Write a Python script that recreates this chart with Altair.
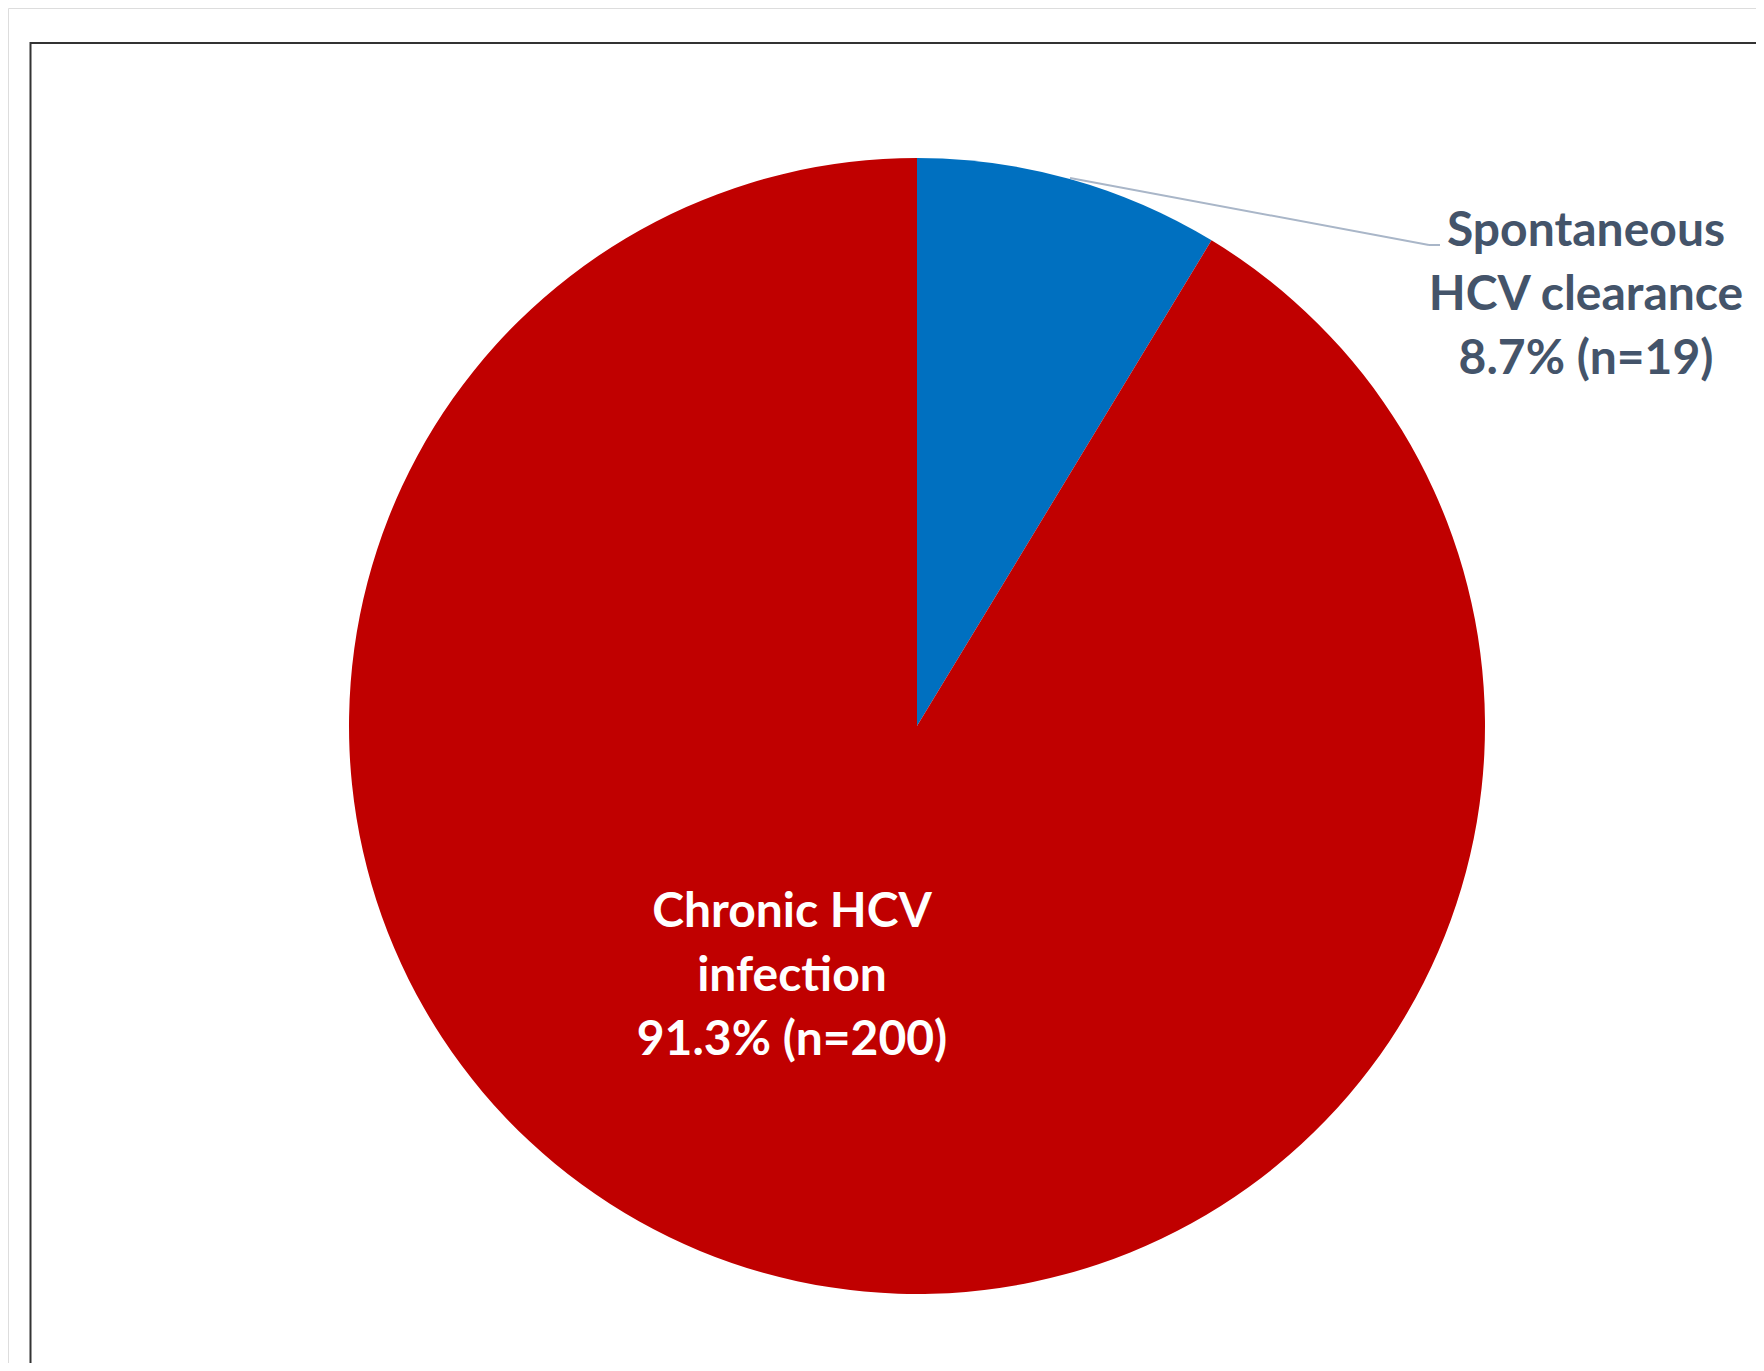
import altair as alt
import pandas as pd

# Data
categories = ["Spontaneous HCV clearance", "Chronic HCV infection"]
counts = [19, 200]
slice_order = [1, 2]
colors = ["#0070C0", "#C00000"]

label_spont = ["Spontaneous", "HCV clearance", "8.7% (n=19)"]
label_chronic = ["Chronic HCV", "infection", "91.3% (n=200)"]

W, H = 1748, 1355
CX, CY, R = 909, 718, 568
FONT = "Lato"
FS = 48
LH = 64

df = pd.DataFrame({"category": categories, "count": counts, "order": slice_order})

pie = alt.Chart(df).mark_arc(outerRadius=R, stroke=None).encode(
    theta=alt.Theta("count:Q", stack=True),
    order=alt.Order("order:Q"),
    color=alt.Color("category:N", scale=alt.Scale(domain=categories, range=colors), legend=None),
    x=alt.value(CX),
    y=alt.value(CY),
)

lab_df = pd.DataFrame({"lines": [label_spont, label_chronic],
                       "category": categories})

text_spont = alt.Chart(lab_df.iloc[[0]]).mark_text(
    font=FONT, fontSize=FS, fontWeight="bold", color="#44546A",
    align="center", baseline="middle", lineHeight=LH,
).encode(text="lines", x=alt.value(1578), y=alt.value(224))

text_chronic = alt.Chart(lab_df.iloc[[1]]).mark_text(
    font=FONT, fontSize=FS, fontWeight="bold", color="#FFFFFF",
    align="center", baseline="middle", lineHeight=LH,
).encode(text="lines", x=alt.value(784), y=alt.value(905))

base = alt.Chart(pd.DataFrame({"k": [0]}))
leader1 = base.mark_rule(color="#A9B6C8", strokeWidth=2).encode(
    x=alt.value(1062), y=alt.value(170), x2=alt.value(1421), y2=alt.value(237))
leader2 = base.mark_rule(color="#A9B6C8", strokeWidth=2).encode(
    x=alt.value(1421), y=alt.value(237), x2=alt.value(1432), y2=alt.value(237))

frame_top = base.mark_rule(color="#333333", strokeWidth=2).encode(
    x=alt.value(22.5), x2=alt.value(W), y=alt.value(35), y2=alt.value(35))
frame_left = base.mark_rule(color="#333333", strokeWidth=2).encode(
    x=alt.value(22.5), x2=alt.value(22.5), y=alt.value(34), y2=alt.value(H))

chart = alt.layer(
    frame_top, frame_left, pie, leader1, leader2, text_spont, text_chronic
).properties(
    width=W, height=H, padding=0, autosize=alt.AutoSizeParams(type="none")
).configure_view(stroke=None).configure(background="#FFFFFF")

chart.save("out.html", embed_options={"renderer": "svg", "actions": False})
